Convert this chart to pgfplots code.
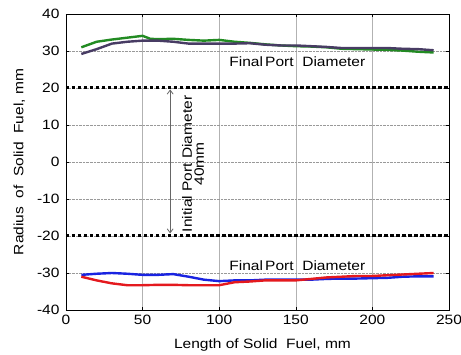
\documentclass[border=0pt]{standalone}
\usepackage{fontspec}
\setmainfont{Liberation Sans}[FakeStretch=1.15]
\usepackage{pgfplots}
\pgfplotsset{compat=1.18}
\usetikzlibrary{arrows.meta}

\definecolor{topA}{RGB}{34,139,34}
\definecolor{topB}{RGB}{72,60,100}
\definecolor{botA}{RGB}{25,35,225}
\definecolor{botB}{RGB}{228,25,30}

\newcommand{\lblfont}{\fontsize{13.5bp}{14bp}\selectfont}

\begin{document}
\begin{tikzpicture}
\begin{axis}[
  scale only axis,
  width=383bp, height=296bp,
  xmin=0, xmax=250, ymin=-40, ymax=40,
  xtick={0,50,100,150,200,250},
  ytick={-40,-30,-20,-10,0,10,20,30,40},
  tick align=inside,
  major tick length=3bp,
  tick style={black, thin},
  axis line style={black, line width=0.8bp},
  grid=major,
  x grid style={gray!60, line width=0.6bp},
  y grid style={gray!80, densely dotted, line width=0.6bp},
  /pgf/number format/assume math mode=true,
  tick label style={font=\lblfont},
  xticklabel style={yshift=-2bp},
  yticklabel style={xshift=-3bp},
  xlabel={Length of Solid\ \ Fuel, mm},
  ylabel={Radius\ \ of\ \ Solid\ \ Fuel, mm},
  label style={font=\lblfont},
  xlabel style={yshift=-7bp, xshift=5bp},
  ylabel style={yshift=5bp},
  clip=false,
]
% reference lines: initial port wall at +/-20 mm
\addplot[black, line width=3bp, dash pattern=on 3.5bp off 2.5bp] coordinates {(0,20.2) (250,20.2)};
\addplot[black, line width=3bp, dash pattern=on 3.5bp off 2.5bp] coordinates {(0,-19.8) (250,-19.8)};

% upper wall profiles
\addplot[topA, line width=2.4bp, line join=round] coordinates {
 (10,31.0) (20,32.5) (30,33.1) (40,33.6) (50,34.1) (55,33.3) (60,33.2) (70,33.3)
 (80,33.0) (90,32.8) (100,33.0) (110,32.5) (120,32.2) (130,31.8) (140,31.5)
 (150,31.3) (160,31.2) (170,31.0) (180,30.6) (190,30.5) (200,30.4) (210,30.3)
 (220,30.1) (230,29.8) (240,29.6)};
\addplot[topB, line width=2.4bp, line join=round] coordinates {
 (10,29.2) (20,30.5) (30,32.0) (40,32.5) (50,32.8) (60,32.8) (70,32.5) (80,32.0)
 (90,32.0) (100,32.0) (110,32.0) (120,32.1) (130,31.7) (140,31.5) (150,31.5)
 (160,31.3) (170,31.1) (180,30.8) (190,30.8) (200,30.8) (210,30.8) (220,30.6)
 (230,30.5) (240,30.2)};

% lower wall profiles
\addplot[botA, line width=2.4bp, line join=round] coordinates {
 (10,-30.5) (20,-30.2) (30,-30.0) (40,-30.2) (50,-30.5) (60,-30.5) (70,-30.3)
 (80,-31.0) (90,-31.8) (100,-32.2) (110,-32.0) (120,-32.0) (130,-31.8) (140,-31.8)
 (150,-31.8) (160,-31.8) (170,-31.6) (180,-31.5) (190,-31.5) (200,-31.4)
 (210,-31.3) (220,-31.0) (230,-30.9) (240,-30.9)};
\addplot[botB, line width=2.4bp, line join=round] coordinates {
 (10,-31.0) (20,-32.0) (30,-32.8) (40,-33.3) (50,-33.3) (60,-33.2) (70,-33.2)
 (80,-33.3) (90,-33.3) (100,-33.3) (110,-32.5) (120,-32.3) (130,-32.0) (140,-32.0)
 (150,-32.0) (160,-31.6) (170,-31.2) (180,-31.0) (190,-30.8) (200,-30.8)
 (210,-30.6) (220,-30.4) (230,-30.2) (240,-30.0)};

\node[font=\lblfont] at (axis cs:151,27.0) {Final\,Port\ \ Diameter};
\node[font=\lblfont] at (axis cs:151,-28.1) {Final\,Port\ \ Diameter};

\draw[gray!80!black, line width=0.8bp, {Straight Barb[length=4bp,width=6bp]}-{Straight Barb[length=4bp,width=6bp]}]
  (axis cs:68,19.6) -- (axis cs:68,-19.3);
\node[font=\fontsize{13.5bp}{12bp}\selectfont, rotate=90, align=center]
  at (axis cs:82.9,-0.5) {Initial Port Diameter\\40mm};
\end{axis}
\pgfresetboundingbox
\useasboundingbox (-66bp,-45bp) rectangle (395bp,310bp);
\end{tikzpicture}
\end{document}
